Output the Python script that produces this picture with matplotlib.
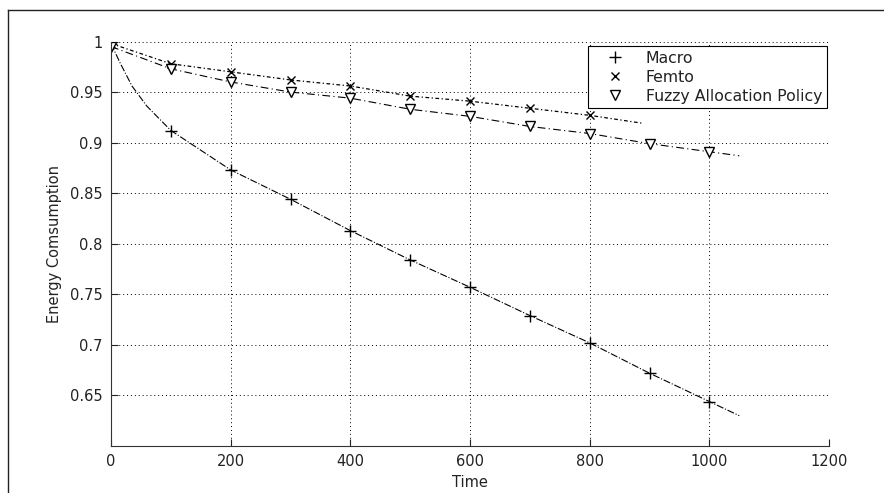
import matplotlib

matplotlib.use("Agg")
import matplotlib.pyplot as plt
from matplotlib.lines import Line2D


# curve samples (markers sit on the hundreds)
macro_t = [0, 15, 35, 60, 100, 200, 300, 400, 500, 600, 700, 800, 900, 1000, 1050]
macro_e = [0.998, 0.979, 0.956, 0.936, 0.912, 0.873, 0.844, 0.813, 0.784, 0.757, 0.729, 0.702, 0.672, 0.644, 0.630]
macro_marks = [0, 4, 5, 6, 7, 8, 9, 10, 11, 12, 13]

femto_t = [0, 100, 200, 300, 400, 500, 600, 700, 800, 890]
femto_e = [0.998, 0.978, 0.970, 0.962, 0.956, 0.946, 0.941, 0.934, 0.927, 0.919]
femto_marks = [0, 1, 2, 3, 4, 5, 6, 7, 8]

fuzzy_t = [0, 100, 200, 300, 400, 500, 600, 700, 800, 900, 1000, 1050]
fuzzy_e = [0.995, 0.973, 0.960, 0.950, 0.944, 0.933, 0.926, 0.916, 0.909, 0.899, 0.891, 0.887]
fuzzy_marks = [0, 1, 2, 3, 4, 5, 6, 7, 8, 9, 10]

x_ticks = [0, 200, 400, 600, 800, 1000, 1200]
y_ticks = [0.65, 0.7, 0.75, 0.8, 0.85, 0.9, 0.95, 1.0]
y_tick_labels = ["0.65", "0.7", "0.75", "0.8", "0.85", "0.9", "0.95", "1"]

fig = plt.figure(figsize=(8.84, 4.93), dpi=100)
# outer frame of the screenshot: top and left edges only
fig.add_artist(Line2D([0.009, 1.0], [0.9797, 0.9797], transform=fig.transFigure, color="#222222", linewidth=1.0))
fig.add_artist(Line2D([0.009, 0.009], [0.0, 0.9797], transform=fig.transFigure, color="#222222", linewidth=1.0))

ax = fig.add_axes([0.1256, 0.0953, 0.8122, 0.8205])

ax.plot(macro_t, macro_e, color="black", linestyle="-.", linewidth=0.8,
        marker="+", markersize=8, markevery=macro_marks)
ax.plot(femto_t, femto_e, color="black", linestyle=(0, (3, 2, 1, 2)), linewidth=0.9,
        marker="x", markersize=6, markevery=femto_marks)
ax.plot(fuzzy_t, fuzzy_e, color="black", linestyle=(0, (7, 3, 1, 3)), linewidth=0.8,
        marker="v", markersize=7, markerfacecolor="white", markevery=fuzzy_marks)

ax.set_xlim(0, 1200)
ax.set_ylim(0.6, 1.0)
ax.set_xticks(x_ticks)
ax.set_yticks(y_ticks)
ax.set_yticklabels(y_tick_labels)
ax.tick_params(direction="in", length=5, labelsize=10.5, pad=6, colors="#222222")
ax.grid(True, color="black", linestyle=(0, (1, 3)), linewidth=0.7)
ax.spines["top"].set_visible(False)
ax.spines["right"].set_visible(False)
ax.spines["left"].set_color("#333333")
ax.spines["bottom"].set_color("#333333")
ax.set_xlabel("Time", fontsize=10.5, labelpad=4, color="#222222")
ax.set_ylabel("Energy Comsumption", fontsize=10.5, labelpad=6, color="#222222")

handles = [
    Line2D([], [], color="black", linestyle="none", marker="+", markersize=9),
    Line2D([], [], color="black", linestyle="none", marker="x", markersize=6),
    Line2D([], [], color="black", linestyle="none", marker="v", markersize=7, markerfacecolor="white"),
]
leg = ax.legend(handles, ["Macro", "Femto", "Fuzzy Allocation Policy"], loc="upper right",
                bbox_to_anchor=(0.997, 0.989), fontsize=11.3, fancybox=False, framealpha=1,
                edgecolor="black", borderaxespad=0, handlelength=2.9, handletextpad=0.5,
                labelspacing=0.25, borderpad=0.3)
leg.get_frame().set_linewidth(0.8)
for text in leg.get_texts():
    text.set_color("#222222")

fig.savefig("out.png", dpi=100)
